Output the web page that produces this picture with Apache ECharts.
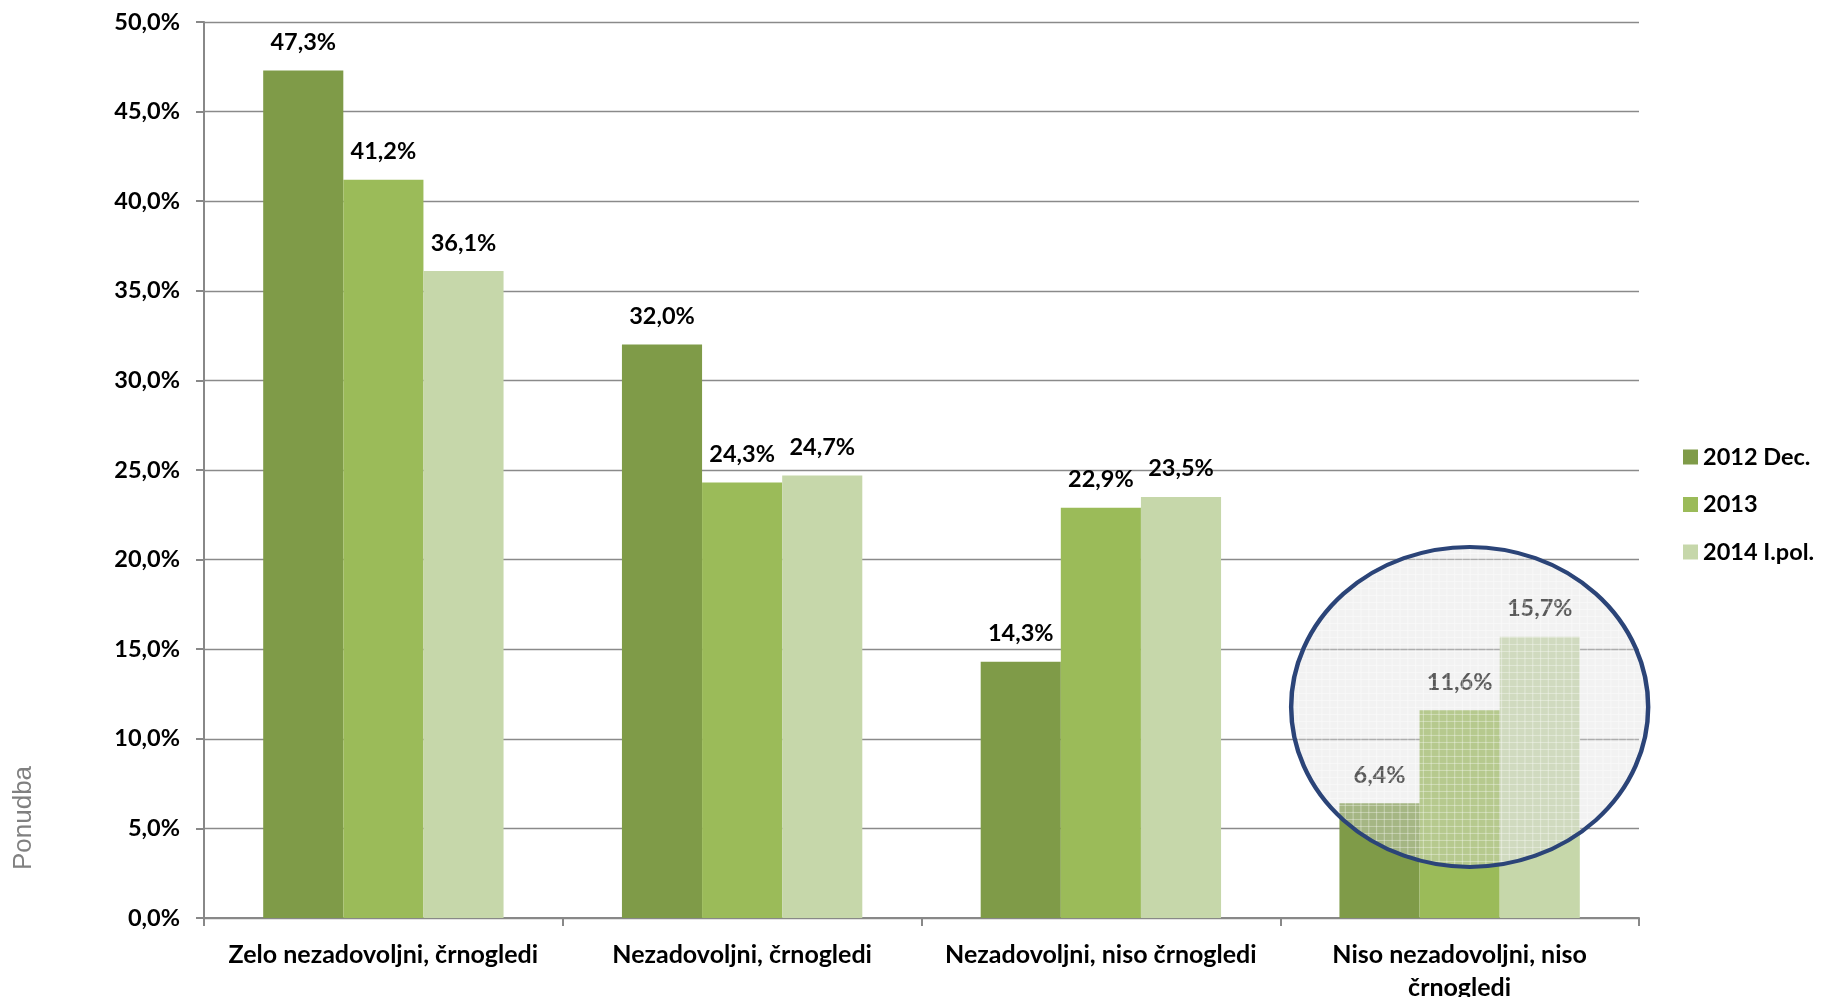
<!DOCTYPE html>
<html>
<head>
<meta charset="utf-8">
<script src="https://cdn.jsdelivr.net/npm/echarts@6/dist/echarts.min.js"></script>
<style>
html,body{margin:0;padding:0;background:#fff;}
#main{width:1823px;height:997px;}
</style>
</head>
<body>
<div id="main"></div>
<script>
const categories = ['Zelo nezadovoljni, črnogledi', 'Nezadovoljni, črnogledi', 'Nezadovoljni, niso črnogledi', 'Niso nezadovoljni, niso\nčrnogledi'];
const seriesNames = ['2012 Dec.', '2013', '2014 I.pol.'];
const values2012 = [47.3, 32.0, 14.3, 6.4];
const values2013 = [41.2, 24.3, 22.9, 11.6];
const values2014 = [36.1, 24.7, 23.5, 15.7];
const colors = ['#7F9B48', '#9BBB59', '#C6D7AA'];
const yTicks = { min: 0, max: 50, interval: 5 };

const FONT = 'Lato, "Open Sans", sans-serif';
const fmt = v => v.toFixed(1).replace('.', ',') + '%';

const chart = echarts.init(document.getElementById('main'), null, { renderer: 'canvas' });

function mkSeries(name, data, color) {
  return {
    name: name,
    type: 'bar',
    data: data,
    barGap: '0%',
    barCategoryGap: '33%',
    itemStyle: { color: color },
    label: {
      show: true,
      position: 'top',
      distance: 16,
      formatter: p => fmt(p.value),
      color: '#000',
      fontFamily: FONT,
      fontWeight: 'bold',
      fontSize: 23.5
    },
    z: 2
  };
}

chart.setOption({
  animation: false,
  backgroundColor: '#fff',
  grid: { left: 204, top: 22, right: 184, bottom: 79, containLabel: false, outerBoundsMode: 'none' },
  legend: {
    orient: 'vertical',
    left: 1678,
    top: 440,
    itemWidth: 15,
    itemHeight: 15,
    itemGap: 23.5,
    icon: 'rect',
    data: seriesNames,
    textStyle: { color: '#000', fontFamily: FONT, fontWeight: 'bold', fontSize: 23.5, lineHeight: 24, padding: [0, 0, 0, 0] }
  },
  xAxis: {
    type: 'category',
    data: categories,
    axisLine: { lineStyle: { color: '#888', width: 2 } },
    axisTick: { show: true, length: 8, lineStyle: { color: '#888', width: 2 } },
    axisLabel: {
      color: '#000', fontFamily: FONT, fontWeight: 'bold', fontSize: 25,
      lineHeight: 33, margin: 20, interval: 0
    }
  },
  yAxis: {
    type: 'value',
    min: yTicks.min, max: yTicks.max, interval: yTicks.interval,
    axisLine: { show: true, lineStyle: { color: '#888', width: 2 } },
    axisTick: { show: true, length: 8, lineStyle: { color: '#888', width: 2 } },
    splitLine: { lineStyle: { color: '#8a8a8a', width: 1.3 } },
    axisLabel: {
      color: '#000', fontFamily: FONT, fontWeight: 'bold', fontSize: 23.5,
      margin: 24, formatter: v => fmt(v)
    }
  },
  series: [
    mkSeries(seriesNames[0], values2012, colors[0]),
    mkSeries(seriesNames[1], values2013, colors[1]),
    mkSeries(seriesNames[2], values2014, colors[2])
  ]
});

// Highlight ellipse around the last category (annotation)
const pc = document.createElement('canvas');
pc.width = 7; pc.height = 7;
const g = pc.getContext('2d');
g.fillStyle = 'rgba(222,222,222,0.40)';
g.fillRect(0, 0, 7, 7);
g.fillStyle = 'rgba(255,255,255,0.35)';
g.fillRect(0, 0, 7, 1);
g.fillRect(0, 0, 1, 7);

const cx0 = chart.convertToPixel({ xAxisIndex: 0 }, categories[3]);
const bandW = chart.convertToPixel({ xAxisIndex: 0 }, categories[3]) - chart.convertToPixel({ xAxisIndex: 0 }, categories[2]);
const cy = chart.convertToPixel({ yAxisIndex: 0 }, 11.78);
const ry = chart.convertToPixel({ yAxisIndex: 0 }, 0) - chart.convertToPixel({ yAxisIndex: 0 }, 8.93);
const rx = bandW * 0.4976;
const cx = cx0 + bandW * 0.028;

chart.setOption({
  graphic: [
    {
      type: 'circle',
      x: cx, y: cy,
      scaleX: rx / ry, scaleY: 1,
      shape: { cx: 0, cy: 0, r: ry },
      style: { fill: { image: pc, repeat: 'repeat' }, stroke: '#2B4478', lineWidth: 4, strokeNoScale: true },
      z: 100
    },
    {
      type: 'text',
      x: 24, y: 818,
      rotation: Math.PI / 2,
      style: {
        text: 'Ponudba', fill: '#808080', font: '26px "Liberation Sans", Arial, sans-serif',
        align: 'center', verticalAlign: 'middle'
      },
      z: 100
    }
  ]
});
</script>
</body>
</html>
